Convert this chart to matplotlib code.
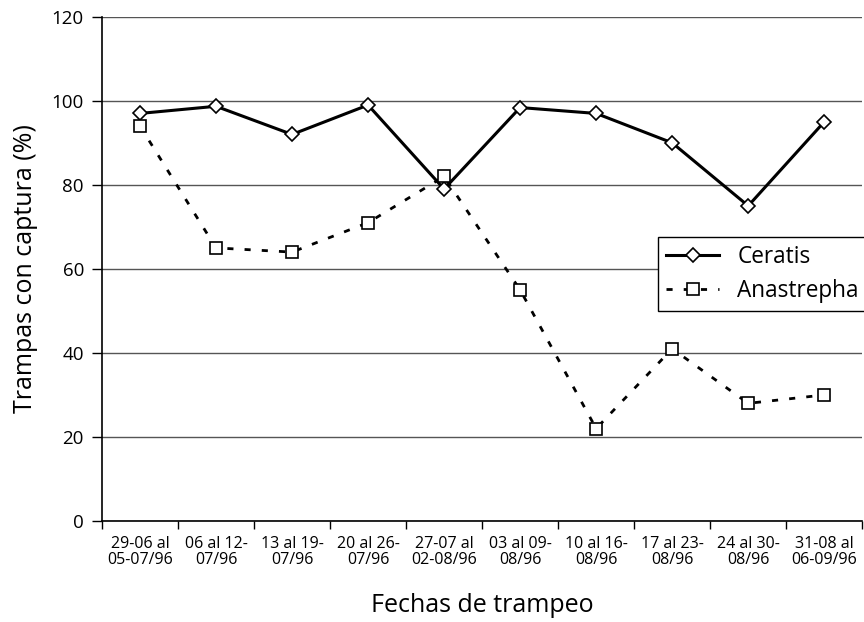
import matplotlib
matplotlib.use("Agg")
import matplotlib.pyplot as plt
import numpy as np

categories = ["29-06 al\n05-07/96", "06 al 12-\n07/96", "13 al 19-\n07/96", "20 al 26-\n07/96",
              "27-07 al\n02-08/96", "03 al 09-\n08/96", "10 al 16-\n08/96", "17 al 23-\n08/96",
              "24 al 30-\n08/96", "31-08 al\n06-09/96"]
ceratis = [97, 98.7, 92, 99, 79, 98.4, 97, 90, 75, 95]
anastrepha = [94, 65, 64, 71, 82, 55, 22, 41, 28, 30]
yticks = [0, 20, 40, 60, 80, 100, 120]

plt.rcParams['font.family'] = ['Open Sans', 'DejaVu Sans']

fig = plt.figure(figsize=(8.64, 6.22), dpi=100)
ax = fig.add_axes([0.118, 0.1624, 0.880, 0.8106])

x = np.arange(len(categories))
ax.plot(x, ceratis, color='black', lw=2.2, marker='D', ms=7, mfc='white', mec='black', mew=1.2,
        label='Ceratis', zorder=3)
ax.plot(x, anastrepha, color='black', lw=2.0, ls=(0, (2.2, 4)), marker='s', ms=9, mfc='white',
        mec='black', mew=1.2, label='Anastrepha', zorder=3)

ax.set_xlim(-0.5, len(categories) - 0.5)
ax.set_ylim(0, 120)
ax.set_yticks(yticks)
ax.set_yticklabels([str(v) for v in yticks], fontsize=13.5)
ax.yaxis.grid(True, color='#555555', lw=1.0)
ax.set_axisbelow(True)

ax.set_xticks(np.arange(len(categories) + 1) - 0.5)
ax.set_xticklabels([])
ax.set_xticks(x, minor=True)
ax.set_xticklabels(categories, minor=True, fontsize=11.5, linespacing=1.0)
ax.tick_params(axis='x', which='minor', length=0, pad=11)
ax.tick_params(axis='x', which='major', length=6, width=1, direction='out')
ax.tick_params(axis='y', length=7, width=1, direction='out', pad=6)

for s in ['top', 'right']:
    ax.spines[s].set_visible(False)
for s in ['left', 'bottom']:
    ax.spines[s].set_color('black')
    ax.spines[s].set_linewidth(1.2)

ax.set_ylabel('Trampas con captura (%)', fontsize=18, labelpad=10)
ax.set_xlabel('Fechas de trampeo', fontsize=18, labelpad=18)

leg = ax.legend(loc='upper left', bbox_to_anchor=(0.7316, 0.5635), fontsize=16.3, frameon=True,
                fancybox=False, edgecolor='black', framealpha=1, handlelength=2.35,
                borderpad=0.35, labelspacing=0.45, handletextpad=0.8, borderaxespad=0)
leg.get_frame().set_linewidth(1.0)

fig.savefig('out.png', dpi=100)
